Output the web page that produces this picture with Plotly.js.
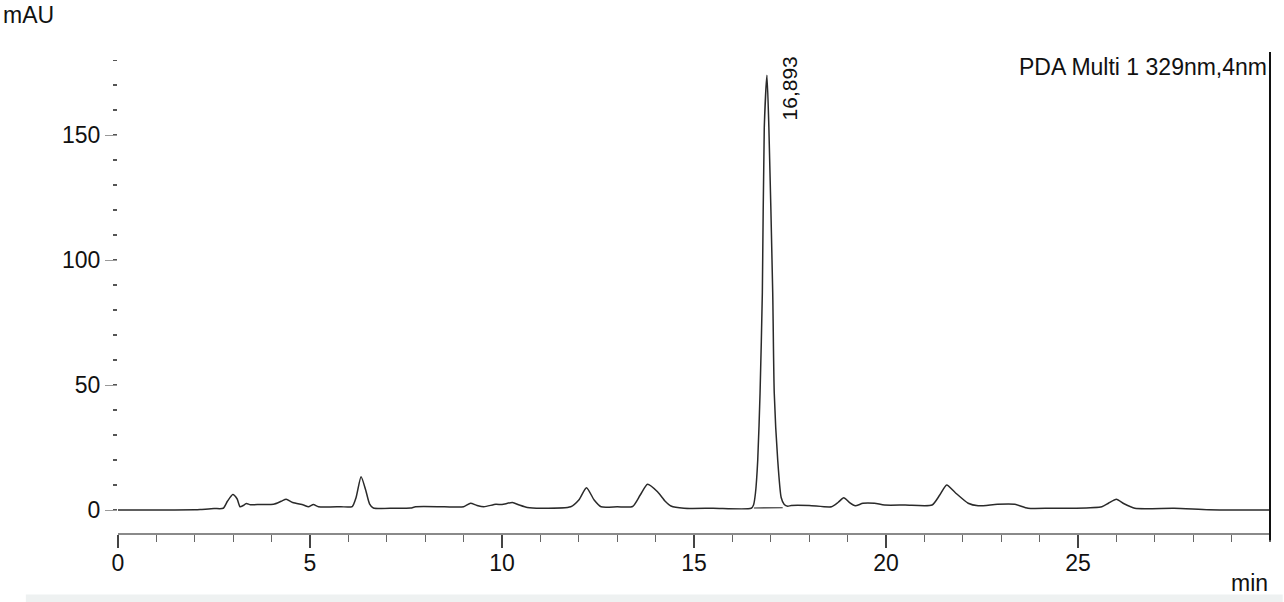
<!DOCTYPE html>
<html>
<head>
<meta charset="utf-8">
<script src="https://cdn.plot.ly/plotly-3.0.1.min.js"></script>
<style>
html,body{margin:0;padding:0;background:#fff;}
#chart{width:1284px;height:602px;}
</style>
</head>
<body>
<div id="chart"></div>
<script>
// Retention time (min) and absorbance (mAU)
const timeMin = [0, 1.0, 2.0, 2.14, 2.5, 2.74, 2.85, 2.99, 3.1, 3.18, 3.26, 3.34, 3.45, 3.7, 4.05, 4.25, 4.38, 4.55, 4.83, 4.96, 5.09, 5.22, 5.8, 6.1, 6.2, 6.33, 6.45, 6.55, 6.65, 7.2, 7.62, 7.75, 8.5, 9.0, 9.18, 9.35, 9.53, 9.84, 10.0, 10.27, 10.45, 10.66, 11.01, 11.79, 12.0, 12.2, 12.4, 12.58, 13.0, 13.4, 13.6, 13.79, 14.05, 14.25, 14.4, 14.74, 15.5, 16.49, 16.55, 16.6, 16.66, 16.72, 16.78, 16.83, 16.9, 16.95, 17.05, 17.09, 17.18, 17.27, 17.35, 17.44, 17.53, 18.0, 18.58, 18.75, 18.9, 19.05, 19.2, 19.4, 19.7, 19.96, 20.5, 21.2, 21.4, 21.58, 21.8, 22.14, 22.4, 22.9, 23.35, 23.7, 24.3, 24.9, 25.62, 25.8, 26.0, 26.2, 26.48, 27.5, 28.4, 29.2, 30.0];
const absorbance = [0, 0, 0.1, 0.2, 0.6, 0.7, 3.5, 6.2, 4.5, 1.3, 1.8, 2.6, 2.1, 2.2, 2.3, 3.5, 4.3, 3.0, 2.0, 1.3, 2.2, 1.3, 1.3, 1.4, 5, 13.3, 8, 2.5, 0.8, 0.7, 0.8, 1.3, 1.3, 1.3, 2.7, 1.8, 1.3, 2.3, 2.2, 3.0, 2.0, 1.0, 0.7, 1.3, 4, 8.9, 4, 1.3, 1.3, 1.4, 6, 10.3, 7.3, 3.5, 1.6, 0.7, 0.7, 0.7, 2, 6.7, 20, 46.7, 87, 153, 174, 153, 87, 46.7, 20, 5, 2.2, 1.5, 1.8, 1.8, 1.3, 3, 4.9, 3, 1.7, 2.7, 2.7, 2.0, 2.0, 2.0, 6, 10, 7, 2.7, 1.7, 2.3, 2.3, 0.7, 0.7, 0.7, 1.3, 2.8, 4.3, 2.5, 0.7, 0.7, 0.1, 0, 0];

// Integration baseline drawn under the main peak
const dropTime = [16.56, 17.31];
const dropValue = [0.8, 0.9];

// Peak label
const peakTime = 16.893;
const peakHeight = 174;
const peakLabel = "16,893";

const yTickVals = [0, 50, 100, 150];
const xTickVals = [0, 5, 10, 15, 20, 25];

const FONT = "Liberation Sans, Arial, sans-serif";
const FS = 23;

const traces = [
  {
    x: timeMin, y: absorbance, type: "scatter", mode: "lines",
    line: {color: "#2a2a2a", width: 1.5, shape: "spline", smoothing: 0.6},
    hoverinfo: "x+y", showlegend: false
  },
  {
    x: dropTime, y: dropValue, type: "scatter", mode: "lines",
    line: {color: "#2a2a2a", width: 1.2},
    hoverinfo: "skip", showlegend: false
  }
];

const layout = {
  width: 1284, height: 602,
  margin: {l: 118, r: 14, t: 52, b: 69, pad: 0},
  paper_bgcolor: "#ffffff", plot_bgcolor: "#ffffff",
  font: {family: FONT, size: FS, color: "#111"},
  showlegend: false,
  xaxis: {
    range: [0, 30], showgrid: false, zeroline: false,
    showline: true, linecolor: "#8a8a8a", linewidth: 2,
    ticks: "outside", ticklen: 13, tickwidth: 1.5, tickcolor: "#444",
    tickvals: xTickVals, ticktext: xTickVals.map(String),
    tickfont: {family: FONT, size: FS, color: "#111"},
    ticklabelstandoff: -5,
    minor: {dtick: 1, ticks: "outside", ticklen: 7, tickcolor: "#666", tickwidth: 1.2},
    fixedrange: true
  },
  yaxis: {
    range: [-9.2, 183.3], showgrid: false, zeroline: false,
    showline: false,
    ticks: "outside", ticklen: 12, tickwidth: 1, tickcolor: "#999",
    tickvals: yTickVals, ticktext: yTickVals.map(String),
    tickfont: {family: FONT, size: FS, color: "#111"},
    minor: {dtick: 10, ticks: "outside", ticklen: 4, tickcolor: "#555", tickwidth: 1.5},
    fixedrange: true
  },
  shapes: [
    {type: "line", xref: "paper", yref: "paper", x0: 1, x1: 1, y0: -0.015, y1: 1,
     line: {color: "#111", width: 2}},
    {type: "rect", xref: "paper", yref: "paper", x0: -0.08, x1: 1.011, y0: -0.128, y1: -0.145,
     fillcolor: "#eef1f1", line: {width: 0}, layer: "below"}
  ],
  annotations: [
    {x: peakTime, y: peakHeight, xref: "x", yref: "y", text: peakLabel, showarrow: false,
     textangle: -90, xanchor: "left", yanchor: "middle", xshift: 9, yshift: -13,
     font: {family: FONT, size: 21, color: "#111"}},
    {x: 1, y: 1, xref: "paper", yref: "paper", text: "PDA Multi 1 329nm,4nm", showarrow: false,
     xanchor: "right", yanchor: "middle", xshift: -1, yshift: -15,
     font: {family: FONT, size: FS, color: "#111"}},
    {x: 0, y: 1, xref: "paper", yref: "paper", text: "mAU", showarrow: false,
     xanchor: "left", yanchor: "middle", xshift: -117, yshift: 37,
     font: {family: FONT, size: FS, color: "#111"}},
    {x: 1, y: 0, xref: "paper", yref: "paper", text: "min", showarrow: false,
     xanchor: "right", yanchor: "middle", xshift: 0, yshift: -50,
     font: {family: FONT, size: FS, color: "#111"}}
  ]
};

Plotly.newPlot("chart", traces, layout, {displayModeBar: false, staticPlot: true});
</script>
</body>
</html>
